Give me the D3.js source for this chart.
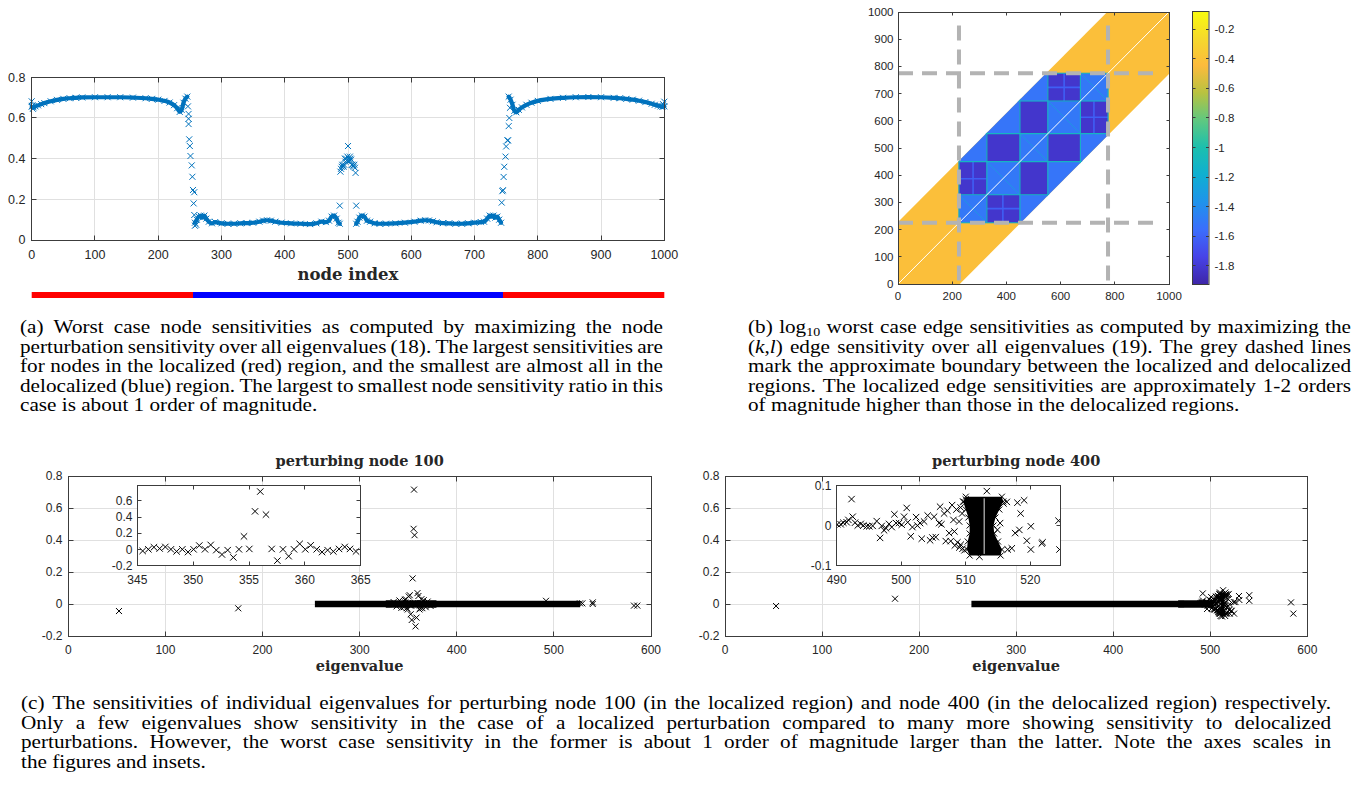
<!DOCTYPE html>
<html>
<head>
<meta charset="utf-8">
<script src="https://cdn.jsdelivr.net/npm/d3@7"></script>
<style>
body { margin: 0; background: #fff; }
</style>
</head>
<body>
<svg id="fig" width="1364" height="789"></svg>
<script>
// ---------- data ----------
// (a) worst case node sensitivities, dense runs [node, value]
var curveLeft = [[0,0.655],[3,0.652],[6,0.657],[10,0.662],[15,0.668],[20,0.673],[30,0.682],[40,0.689],[50,0.694],[60,0.697],[70,0.699],[80,0.701],[100,0.702],[120,0.702],[140,0.702],[160,0.700],[180,0.697],[190,0.694],[200,0.690],[210,0.684],[218,0.676],[225,0.663],[230,0.648],[234,0.630],[237,0.640],[240,0.675],[243,0.695],[246,0.705]];
var floorLeft = [[258,0.085],[261,0.10],[264,0.115],[267,0.12],[270,0.11],[273,0.12],[276,0.105],[280,0.09],[285,0.082],[290,0.088],[300,0.082],[310,0.08],[320,0.08],[330,0.082],[340,0.083],[350,0.085],[360,0.09],[366,0.095],[372,0.097],[378,0.095],[385,0.09],[395,0.085],[410,0.082],[425,0.08],[440,0.078],[450,0.082],[458,0.09],[465,0.088],[470,0.095],[474,0.115],[478,0.12],[482,0.105],[485,0.085],[487,0.08]];
var floorRight = [[513,0.08],[515,0.09],[518,0.11],[522,0.12],[526,0.115],[530,0.095],[535,0.09],[542,0.082],[550,0.08],[560,0.08],[575,0.082],[590,0.085],[605,0.09],[615,0.095],[622,0.097],[628,0.096],[634,0.092],[640,0.087],[650,0.083],[660,0.082],[670,0.08],[680,0.08],[690,0.082],[700,0.085],[710,0.088],[715,0.09],[720,0.105],[724,0.12],[727,0.115],[730,0.12],[733,0.11],[736,0.115],[739,0.10],[742,0.085]];
var curveRight = [[754,0.705],[757,0.69],[760,0.665],[763,0.635],[766,0.628],[770,0.64],[775,0.652],[782,0.665],[790,0.675],[800,0.684],[820,0.694],[840,0.699],[860,0.702],[880,0.703],[900,0.702],[920,0.699],[930,0.697],[940,0.694],[950,0.69],[960,0.685],[970,0.678],[980,0.67],[985,0.665],[990,0.661],[994,0.657],[997,0.654],[1000,0.657]];
// (a) isolated markers
var nodeDots = [[0,0.682],[1,0.66],[2,0.645],[998,0.668],[1000,0.68],
  [247,0.657],[248,0.62],[248,0.596],[248,0.57],[249,0.495],[250,0.462],[251,0.413],[253,0.367],[254,0.311],[255,0.246],[256,0.18],[257,0.235],[257,0.123],[258,0.07],[260,0.075],
  [487,0.169],[488,0.336],[489,0.35],[490,0.36],[491,0.37],[492,0.365],[493,0.36],[494,0.37],[495,0.40],[496,0.385],[497,0.40],[498,0.39],[499,0.41],[500,0.462],[501,0.40],[502,0.39],[503,0.41],[504,0.40],[505,0.395],[506,0.37],[507,0.37],[508,0.365],[509,0.36],[510,0.37],[511,0.355],[512,0.33],[513,0.169],
  [743,0.184],[744,0.24],[745,0.245],[746,0.31],[747,0.36],[749,0.41],[750,0.46],[752,0.49],[753,0.49],[754,0.56],[755,0.6],[756,0.65]];
var regionBar = [[0,255,"#ff0000"],[255,745,"#0000ff"],[745,1000,"#ff0000"]];
var nodeTicksX = [0,100,200,300,400,500,600,700,800,900,1000];
var nodeTicksY = [0,0.2,0.4,0.6,0.8];

// (b) log10 edge sensitivities: band structure
var bandHalf = 228;
var outerLevel = -0.42;
var blockEdges = [225,328,450,553,673,775];
var blockLevels = [
  [-1.50,-1.82,-1.52,-1.52,-1.52],
  [-1.82,-1.50,-1.82,-1.52,-1.52],
  [-1.52,-1.82,-1.50,-1.82,-1.52],
  [-1.52,-1.52,-1.82,-1.50,-1.82],
  [-1.52,-1.52,-1.52,-1.82,-1.50]];
var edgeLineLevel = -1.1;
var splitLevel = -1.62;
var splitLines = [[277,328,277,450],[225,387,328,387],[387,225,387,328],[328,277,450,277],[723,550,723,672],[672,613,775,613],[613,672,613,775],[550,723,672,723]];
var boundaryNodes = [225,775];
var boundaryExtent = [0,950];
var heatTicksX = [0,200,400,600,800,1000];
var heatTicksY = [0,100,200,300,400,500,600,700,800,900,1000];
var cbarDomain = [-1.924,-0.076];
var cbarTicks = [-1.8,-1.6,-1.4,-1.2,-1,-0.8,-0.6,-0.4,-0.2];
var parulaPos = [0,0.1,0.2,0.3,0.4,0.5,0.6,0.7,0.8,0.9,1];
var parulaHex = ["#3e26a8","#4743e8","#3b6efc","#1f93eb","#0fafd1","#1bbfae","#5fc880","#b8c240","#fcbb3c","#f5d92c","#f9fb0e"];

// (c) eigenvalue sensitivities
var eigTicksX = [0,100,200,300,400,500,600];
var eigTicksY = [-0.2,0,0.2,0.4,0.6,0.8];
var n100Inset = [[345.48,-0.02],[345.99,0],[346.49,0.026],[347.0,0.01],[347.51,0.03],[348.01,0],[348.52,-0.026],[349.03,0],[349.54,-0.034],[350.04,0],[350.55,0.047],[351.06,0],[351.57,0.055],[352.07,-0.01],[352.58,-0.064],[353.09,-0.01],[353.6,-0.10],[354.1,0],[354.55,0.16],[355.03,0.005],[355.54,0.47],[356.01,0.715],[356.52,0.43],[357.03,0.005],[357.54,-0.14],[358.04,0],[358.55,-0.085],[359.03,0],[359.54,0.068],[360.04,0],[360.52,0.05],[361.06,0],[361.54,-0.034],[362.04,-0.01],[362.55,-0.026],[363.06,0.005],[363.57,0.03],[364.04,0.005],[364.58,-0.026]];
var n100Extra = [[52.2,-0.044],[175,-0.027],[335,0.012],[338,-0.015],[341,0.022],[343,-0.024],[366,0.024],[368,-0.02],[370,0.015],[373,-0.012],[491.9,0.02],[526.9,0.004],[529.3,0.004],[540,0.01],[540,0.0],[582.5,-0.01],[585.9,-0.01]];
var n100Bands = [[257,330,0.004],[330,376,0.007],[376,524,0.004]];
var n100InsetX = [345,350,355,360,365];
var n100InsetY = [-0.2,0,0.2,0.4,0.6];

var n400Inset = [[490.10,0.003],[490.62,0.003],[491.03,0.007],[491.55,0.008],[491.81,0.014],[492.3,0.066],[492.48,0.022],[492.84,0.007],[493.26,0],[493.72,0.004],[494.13,0],[494.65,-0.002],[495.06,-0.002],[495.58,-0.001],[496.2,0.011],[496.72,-0.031],[496.98,-0.001],[497.34,-0.012],[497.65,-0.007],[498.11,0.004],[498.53,-0.004],[498.94,0.028],[499.2,0.006],[499.66,0.006],[500.08,0.002],[500.44,0.022],[500.85,0.044],[501.0,0.008],[501.47,-0.027],[501.73,-0.004],[502.3,0.021],[502.5,0],[502.92,0.006],[503.18,-0.033],[503.54,0.01],[504.1,0.025],[504.47,-0.037],[504.83,-0.03],[505.09,0.022],[505.35,-0.029],[505.87,0.006],[506.02,0.047],[506.23,0.003],[506.64,0.03],[506.9,-0.039],[507.16,0.037],[507.42,-0.019],[507.67,-0.039],[507.88,0.051],[508.09,0.014],[508.24,-0.015],[508.3,-0.05],[508.55,0.04],[508.71,-0.042],[508.97,0.01],[509.0,-0.055],[509.2,0.045],[509.22,-0.048],[509.43,0.03],[509.5,-0.058],[509.64,0.059],[509.8,-0.062],[510.0,0.065],
  [513.26,0.086],[512.12,-0.078],
  [514.9,-0.011],[515.32,0.006],[515.84,0.055],[516.36,0.059],[516.5,-0.06],[517.13,-0.057],[517.65,-0.019],[518.0,0.057],[518.3,-0.011],[518.5,0.03],[519.04,0.063],[519.46,-0.038],[520.08,-0.002],[520.08,-0.06],[521.78,-0.045],[521.9,-0.042],[524.37,0.012],[524.52,-0.06]];
// dense column of overlapping markers near 513: [value, left eigenvalue, right eigenvalue]
var n400Column = [[0.072,510.0,515.6],[0.06,509.6,515.8],[0.04,510.0,515.2],[0.02,510.4,514.6],[0.0,510.6,514.3],[-0.02,510.6,514.4],[-0.04,510.3,515.0],[-0.06,510.2,515.6],[-0.075,510.6,515.4]];
var n400Gap = 512.85;
var n400Extra = [[52.6,-0.0125],[175.2,0.033],[526,0.012],[529.6,0.05],[530,0.025],[540.2,0.055],[540.2,0.02],[583.2,0.01],[585.6,-0.06]];
var n400Bands = [[257,470,0.004],[470,500,0.007]];
var n400InsetX = [490,500,510,520];
var n400InsetY = [-0.1,0,0.1];

// captions
var capA = [
  "(a) Worst case node sensitivities as computed by maximizing the node",
  "perturbation sensitivity over all eigenvalues (18). The largest sensitivities are",
  "for nodes in the localized (red) region, and the smallest are almost all in the",
  "delocalized (blue) region. The largest to smallest node sensitivity ratio in this",
  "case is about 1 order of magnitude."];
var capB = [
  "(b) log<tspan dy='4' font-size='14'>10</tspan> worst case edge sensitivities as computed by maximizing the",
  "(<tspan font-style='italic'>k</tspan>,<tspan font-style='italic'>l</tspan>) edge sensitivity over all eigenvalues (19). The grey dashed lines",
  "mark the approximate boundary between the localized and delocalized",
  "regions. The localized edge sensitivities are approximately 1-2 orders",
  "of magnitude higher than those in the delocalized regions."];
var capC = [
  "(c) The sensitivities of individual eigenvalues for perturbing node 100 (in the localized region) and node 400 (in the delocalized region) respectively.",
  "Only a few eigenvalues show sensitivity in the case of a localized perturbation compared to many more showing sensitivity to delocalized",
  "perturbations. However, the worst case sensitivity in the former is about 1 order of magnitude larger than the latter. Note the axes scales in",
  "the figures and insets."];

// ---------- helpers ----------
var svg = d3.select("#fig");
var defs = svg.append("defs");
var ink = "#262626", gridCol = "#e0e0e0", boxCol = "#3c3c3c";
var sans = "'Liberation Sans', Arial, sans-serif";
var serifB = "'DejaVu Serif', serif";
var times = "'Liberation Serif', 'Times New Roman', serif";
var mBlue = "#0072bd";

function px(v) { return Math.round(v - 0.5) + 0.5; }
function fmt(v) { return String(+v.toFixed(2)); }
function cross(s) { return "M" + (-s) + "," + (-s) + "L" + s + "," + s + "M" + (-s) + "," + s + "L" + s + "," + (-s); }

function drawGrid(g, x, y, xt, yt) {
  var L = x.range()[0], R = x.range()[1], B = y.range()[0], T = y.range()[1];
  g.selectAll(null).data(xt).join("line")
    .attr("x1", d => px(x(d))).attr("x2", d => px(x(d)))
    .attr("y1", T).attr("y2", B).attr("stroke", gridCol);
  g.selectAll(null).data(yt).join("line")
    .attr("y1", d => px(y(d))).attr("y2", d => px(y(d)))
    .attr("x1", L).attr("x2", R).attr("stroke", gridCol);
}

function drawBox(g, x, y, o) {
  var L = px(x.range()[0]), R = px(x.range()[1]), B = px(y.range()[0]), T = px(y.range()[1]);
  var tl = o.tl;
  g.append("rect").attr("x", L).attr("y", T).attr("width", R - L).attr("height", B - T)
    .attr("fill", "none").attr("stroke", boxCol).attr("stroke-width", 1);
  g.selectAll(null).data(o.xt).join("path")
    .attr("d", d => { var X = px(x(d)); return "M" + X + "," + B + "v" + (-tl) + "M" + X + "," + T + "v" + tl; })
    .attr("stroke", boxCol);
  g.selectAll(null).data(o.yt).join("path")
    .attr("d", d => { var Y = px(y(d)); return "M" + L + "," + Y + "h" + tl + "M" + R + "," + Y + "h" + (-tl); })
    .attr("stroke", boxCol);
  g.selectAll(null).data(o.xt).join("text")
    .attr("x", d => x(d)).attr("y", B + o.xlo)
    .attr("text-anchor", "middle").attr("font-family", sans).attr("font-size", o.fs).attr("fill", ink)
    .text(fmt);
  g.selectAll(null).data(o.yt).join("text")
    .attr("x", L - o.ylo).attr("y", d => y(d)).attr("dy", "0.35em")
    .attr("text-anchor", "end").attr("font-family", sans).attr("font-size", o.fs).attr("fill", ink)
    .text(fmt);
}

function marks(g, pts, x, y, s, col) {
  g.selectAll(null).data(pts).join("path")
    .attr("transform", d => "translate(" + x(d[0]) + "," + y(d[1]) + ")")
    .attr("d", cross(s)).attr("fill", "none").attr("stroke", col).attr("stroke-width", 1);
}

function bands(g, data, x, y) {
  g.selectAll(null).data(data).join("rect")
    .attr("x", d => x(d[0]) - 3).attr("width", d => x(d[1]) - x(d[0]) + 6)
    .attr("y", d => y(d[2]) - 2.6).attr("height", d => y(-d[2]) - y(d[2]) + 5.2)
    .attr("fill", "#000");
}

function column(g, env, x, y, gap) {
  var left = env.map(d => [x(d[1]), y(d[0])]);
  var right = env.map(d => [x(d[2]), y(d[0])]).reverse();
  g.append("path").attr("d", d3.line()(left.concat(right)) + "Z").attr("fill", "#000");
  marks(g, env.map(d => [d[1], d[0]]), x, y, 3, "#000");
  marks(g, env.map(d => [d[2], d[0]]), x, y, 3, "#000");
  if (gap !== null) {
    g.append("line").attr("x1", x(gap)).attr("x2", x(gap))
      .attr("y1", y(env[0][0] - 0.004)).attr("y2", y(env[env.length - 1][0] + 0.004))
      .attr("stroke", "#fff").attr("stroke-width", 0.9);
  }
}

function clipRect(id, x, y) {
  defs.append("clipPath").attr("id", id).append("rect")
    .attr("x", x.range()[0]).attr("y", y.range()[1])
    .attr("width", x.range()[1] - x.range()[0]).attr("height", y.range()[0] - y.range()[1]);
}

// ---------- (a) node sensitivities ----------
var xa = d3.scaleLinear().domain([0, 1000]).range([31.7, 664.3]);
var ya = d3.scaleLinear().domain([0, 0.8]).range([240, 77.3]);
var ga = svg.append("g");
drawGrid(ga, xa, ya, nodeTicksX, nodeTicksY);
var lineA = d3.line().x(d => xa(d[0])).y(d => ya(d[1])).curve(d3.curveMonotoneX);
[curveLeft, floorLeft, floorRight, curveRight].forEach(function(run) {
  ga.append("path").attr("d", lineA(run)).attr("fill", "none")
    .attr("stroke", mBlue).attr("stroke-width", 4.2).attr("stroke-linejoin", "round").attr("stroke-linecap", "round");
  marks(ga, run, xa, ya, 3, mBlue);
});
marks(ga, nodeDots, xa, ya, 3, mBlue);
drawBox(ga, xa, ya, {xt: nodeTicksX, yt: nodeTicksY, tl: 5, xlo: 18, ylo: 6, fs: 12.5});
ga.append("text").attr("x", (xa(0) + xa(1000)) / 2).attr("y", 280).attr("text-anchor", "middle")
  .attr("font-family", serifB).attr("font-weight", "bold").attr("font-size", 16.5).attr("fill", ink)
  .text("node index");
ga.selectAll(null).data(regionBar).join("rect")
  .attr("x", d => xa(d[0])).attr("width", d => xa(d[1]) - xa(d[0]))
  .attr("y", 292).attr("height", 6).attr("fill", d => d[2]);

// ---------- (b) edge sensitivity heatmap ----------
var parula = d3.scaleLinear().domain(parulaPos).range(parulaHex).interpolate(d3.interpolateRgb).clamp(true);
var lvl = d3.scaleLinear().domain(cbarDomain).range([0, 1]);
function colorOf(v) { return parula(lvl(v)); }

var hx = d3.scaleLinear().domain([0, 1000]).range([898, 1169]);
var hy = d3.scaleLinear().domain([0, 1000]).range([284, 12]);
var bandPoly = [[0,0],[bandHalf,0],[1000,1000 - bandHalf],[1000,1000],[1000 - bandHalf,1000],[0,bandHalf]];
defs.append("clipPath").attr("id", "bandClip").append("polygon")
  .attr("points", bandPoly.map(p => hx(p[0]) + "," + hy(p[1])).join(" "));
var gb = svg.append("g");
var hm = gb.append("g").attr("clip-path", "url(#bandClip)");
hm.append("rect").attr("x", hx(0)).attr("y", hy(1000)).attr("width", hx(1000) - hx(0)).attr("height", hy(0) - hy(1000))
  .attr("fill", colorOf(outerLevel));
var cells = [];
blockLevels.forEach(function(row, j) { row.forEach(function(v, i) { cells.push([i, j, v]); }); });
hm.selectAll(null).data(cells).join("rect")
  .attr("x", d => hx(blockEdges[d[0]])).attr("width", d => hx(blockEdges[d[0] + 1]) - hx(blockEdges[d[0]]))
  .attr("y", d => hy(blockEdges[d[1] + 1])).attr("height", d => hy(blockEdges[d[1]]) - hy(blockEdges[d[1] + 1]))
  .attr("fill", d => colorOf(d[2])).attr("stroke", d => colorOf(d[2])).attr("stroke-width", 0.5);
hm.selectAll(null).data(splitLines).join("line")
  .attr("x1", d => hx(d[0])).attr("y1", d => hy(d[1])).attr("x2", d => hx(d[2])).attr("y2", d => hy(d[3]))
  .attr("stroke", colorOf(splitLevel)).attr("stroke-width", 1.6);
// anti-diagonals inside diagonal blocks
hm.selectAll(null).data(d3.range(blockEdges.length - 1)).join("line")
  .attr("x1", i => hx(blockEdges[i])).attr("y1", i => hy(blockEdges[i + 1]))
  .attr("x2", i => hx(blockEdges[i + 1])).attr("y2", i => hy(blockEdges[i]))
  .attr("stroke", colorOf(-1.2)).attr("stroke-width", 1).attr("opacity", 0.55);
var lo = blockEdges[0], hi = blockEdges[blockEdges.length - 1];
hm.selectAll(null).data(blockEdges).join("line")
  .attr("x1", d => hx(d)).attr("x2", d => hx(d)).attr("y1", hy(lo)).attr("y2", hy(hi))
  .attr("stroke", colorOf(edgeLineLevel)).attr("stroke-width", 1.1);
hm.selectAll(null).data(blockEdges).join("line")
  .attr("y1", d => hy(d)).attr("y2", d => hy(d)).attr("x1", hx(lo)).attr("x2", hx(hi))
  .attr("stroke", colorOf(edgeLineLevel)).attr("stroke-width", 1.1);
hm.append("line").attr("x1", hx(0)).attr("y1", hy(0)).attr("x2", hx(1000)).attr("y2", hy(1000))
  .attr("stroke", "#ffffff").attr("stroke-width", 1);
// grey dashed boundaries
gb.selectAll(null).data(boundaryNodes).join("line")
  .attr("x1", d => hx(d)).attr("x2", d => hx(d)).attr("y1", hy(boundaryExtent[1])).attr("y2", hy(boundaryExtent[0]))
  .attr("stroke", "#b3b3b3").attr("stroke-width", 4).attr("stroke-dasharray", "15,9");
gb.selectAll(null).data(boundaryNodes).join("line")
  .attr("y1", d => hy(d)).attr("y2", d => hy(d)).attr("x1", hx(boundaryExtent[0])).attr("x2", hx(boundaryExtent[1]))
  .attr("stroke", "#b3b3b3").attr("stroke-width", 4).attr("stroke-dasharray", "15,9");
drawBox(gb, hx, hy, {xt: heatTicksX, yt: heatTicksY, tl: 3, xlo: 15, ylo: 5, fs: 11.5});

// colorbar
var cy = d3.scaleLinear().domain(cbarDomain).range([284, 11]);
var grad = defs.append("linearGradient").attr("id", "parulaGrad")
  .attr("x1", 0).attr("y1", 1).attr("x2", 0).attr("y2", 0);
grad.selectAll("stop").data(parulaPos).join("stop")
  .attr("offset", d => d).attr("stop-color", (d, i) => parulaHex[i]);
var cbL = 1192, cbR = 1208.5;
gb.append("rect").attr("x", cbL).attr("y", cy(cbarDomain[1])).attr("width", cbR - cbL)
  .attr("height", cy(cbarDomain[0]) - cy(cbarDomain[1])).attr("fill", "url(#parulaGrad)");
gb.append("rect").attr("x", px(cbL)).attr("y", px(cy(cbarDomain[1]))).attr("width", cbR - cbL)
  .attr("height", cy(cbarDomain[0]) - cy(cbarDomain[1])).attr("fill", "none").attr("stroke", boxCol);
gb.selectAll(null).data(cbarTicks).join("path")
  .attr("d", d => { var Y = px(cy(d)); return "M" + px(cbL) + "," + Y + "h3M" + (px(cbL) + cbR - cbL) + "," + Y + "h-3"; })
  .attr("stroke", boxCol);
gb.selectAll(null).data(cbarTicks).join("text")
  .attr("x", cbR + 6).attr("y", d => cy(d)).attr("dy", "0.35em")
  .attr("font-family", sans).attr("font-size", 11.5).attr("fill", ink).text(fmt);

// ---------- (c) eigenvalue sensitivities ----------
function eigPanel(o) {
  var x = d3.scaleLinear().domain([0, 600]).range(o.xr);
  var y = d3.scaleLinear().domain([-0.2, 0.8]).range([636, 476]);
  var g = svg.append("g");
  drawGrid(g, x, y, eigTicksX, eigTicksY);
  bands(g, o.bands, x, y);
  if (o.column) column(g, o.column, x, y, null);
  marks(g, o.inset.concat(o.extra), x, y, 3, "#000");
  drawBox(g, x, y, {xt: eigTicksX, yt: eigTicksY, tl: 5, xlo: 17, ylo: 6, fs: 12});
  g.append("text").attr("x", (o.xr[0] + o.xr[1]) / 2).attr("y", 466).attr("text-anchor", "middle")
    .attr("font-family", serifB).attr("font-weight", "bold").attr("font-size", 14.5).attr("fill", ink).text(o.title);
  g.append("text").attr("x", (o.xr[0] + o.xr[1]) / 2).attr("y", 671).attr("text-anchor", "middle")
    .attr("font-family", serifB).attr("font-weight", "bold").attr("font-size", 14.5).attr("fill", ink).text("eigenvalue");

  // inset
  var ix = d3.scaleLinear().domain(o.ixd).range(o.ixr);
  var iy = d3.scaleLinear().domain(o.iyd).range([565.5, 485.5]);
  var gi = svg.append("g");
  gi.append("rect").attr("x", o.ixr[0]).attr("y", 485.5).attr("width", o.ixr[1] - o.ixr[0]).attr("height", 80)
    .attr("fill", "#fff");
  clipRect(o.id, ix, iy);
  var gc = gi.append("g").attr("clip-path", "url(#" + o.id + ")");
  if (o.column) column(gc, o.column, ix, iy, o.gap);
  marks(gc, o.inset, ix, iy, 3.2, "#000");
  drawBox(gi, ix, iy, {xt: o.ixt, yt: o.iyt, tl: 4, xlo: 18, ylo: 5, fs: 12});
}

eigPanel({id: "in100", xr: [68.3, 651], title: "perturbing node 100",
  bands: n100Bands, inset: n100Inset, extra: n100Extra, column: null,
  ixd: [345, 365], ixr: [137.3, 360.7], iyd: [-0.2, 0.79], ixt: n100InsetX, iyt: n100InsetY});
eigPanel({id: "in400", xr: [725, 1307.3], title: "perturbing node 400",
  bands: n400Bands, inset: n400Inset, extra: n400Extra, column: n400Column, gap: n400Gap,
  ixd: [490, 524.6], ixr: [836.7, 1060], iyd: [-0.1, 0.1], ixt: n400InsetX, iyt: n400InsetY});

// ---------- captions (justified, text slightly squashed vertically like the source) ----------
function paragraph(lines, x0, x1, y0, lh, fs, sy) {
  var g = svg.append("g").attr("font-family", times).attr("font-size", fs).attr("fill", "#000");
  lines.forEach(function(line, i) {
    var words = line.split(/ (?![^<]*>)/);
    var y = y0 + i * lh;
    var nodes = words.map(w => g.append("text").attr("x", 0).attr("y", 0).html(w));
    var widths = nodes.map(n => n.node().getComputedTextLength());
    var last = i === lines.length - 1;
    var gapW = last ? fs * 0.25 : (x1 - x0 - d3.sum(widths)) / (words.length - 1);
    var x = x0;
    nodes.forEach(function(n, k) {
      n.attr("transform", "translate(" + x + "," + y + ") scale(1," + sy + ")");
      x += widths[k] + gapW;
    });
  });
}
paragraph(capA, 20, 663, 333, 19.5, 21.2, 0.86);
paragraph(capB, 748, 1351, 333, 19.5, 21.2, 0.86);
paragraph(capC, 21, 1331, 709, 19.7, 21.2, 0.86);
</script>
</body>
</html>
